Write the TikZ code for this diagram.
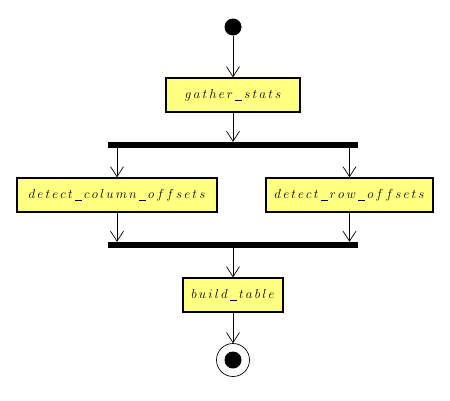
\documentclass[tikz,border=0pt]{standalone}
\usetikzlibrary{arrows.meta}
\DeclareFontShape{OML}{cmm}{m}{it}{<->cmmi12}{}
\newcommand\lsp{\kern2.2pt}
\newcommand\usc{\lsp\rule[-3pt]{7pt}{0.8pt}\lsp}
\begin{document}
\begin{tikzpicture}[x=1pt,y=-1pt,
  act/.style={draw=black,line width=1.4pt,fill={rgb,255:red,255;green,255;blue,128},minimum height=34pt,inner sep=0pt,font=\fontsize{13}{15}\selectfont},
  bar/.style={fill=black,draw=none,minimum width=250pt,minimum height=6pt,inner sep=0pt},
  arr/.style={-{Straight Barb[length=10pt,width=13pt,line width=0.7pt]},line width=0.7pt}]
\useasboundingbox (0,0) rectangle (450,400);
\node[circle,fill=black,minimum size=17pt,inner sep=0pt] (start) at (233,27) {};
\node[act,minimum width=134pt] (gather) at (233,95) {$g\lsp a\lsp t\lsp h\lsp e\lsp r\usc s\lsp t\lsp a\lsp t\lsp s$};
\node[bar] (fork) at (233,145) {};
\node[act,minimum width=200pt] (col) at (117,195) {$d\lsp e\lsp t\lsp e\lsp c\lsp t\usc c\lsp o\lsp l\lsp u\lsp m\lsp n\usc o\lsp f\lsp f\lsp s\lsp e\lsp t\lsp s$};
\node[act,minimum width=167pt] (row) at (349.5,195) {$d\lsp e\lsp t\lsp e\lsp c\lsp t\usc r\lsp o\lsp w\usc o\lsp f\lsp f\lsp s\lsp e\lsp t\lsp s$};
\node[bar] (join) at (233,245) {};
\node[act,minimum width=100pt] (build) at (233,295) {$b\lsp u\lsp i\lsp l\lsp d\usc t\lsp a\lsp b\lsp l\lsp e$};
\node[circle,draw=black,line width=0.7pt,minimum size=33pt,inner sep=0pt] (end) at (233,360) {};
\node[circle,fill=black,minimum size=17pt,inner sep=0pt] (endin) at (end.center) {};
\draw[arr] (start) -- (gather);
\draw[arr] (gather) -- (fork);
\draw[arr] (fork.south -| col.north) -- (col.north);
\draw[arr] (fork.south -| row.north) -- (row.north);
\draw[arr] (col.south) -- (join.north -| col.south);
\draw[arr] (row.south) -- (join.north -| row.south);
\draw[arr] (join) -- (build);
\draw[arr] (build) -- (end);
\end{tikzpicture}
\end{document}
